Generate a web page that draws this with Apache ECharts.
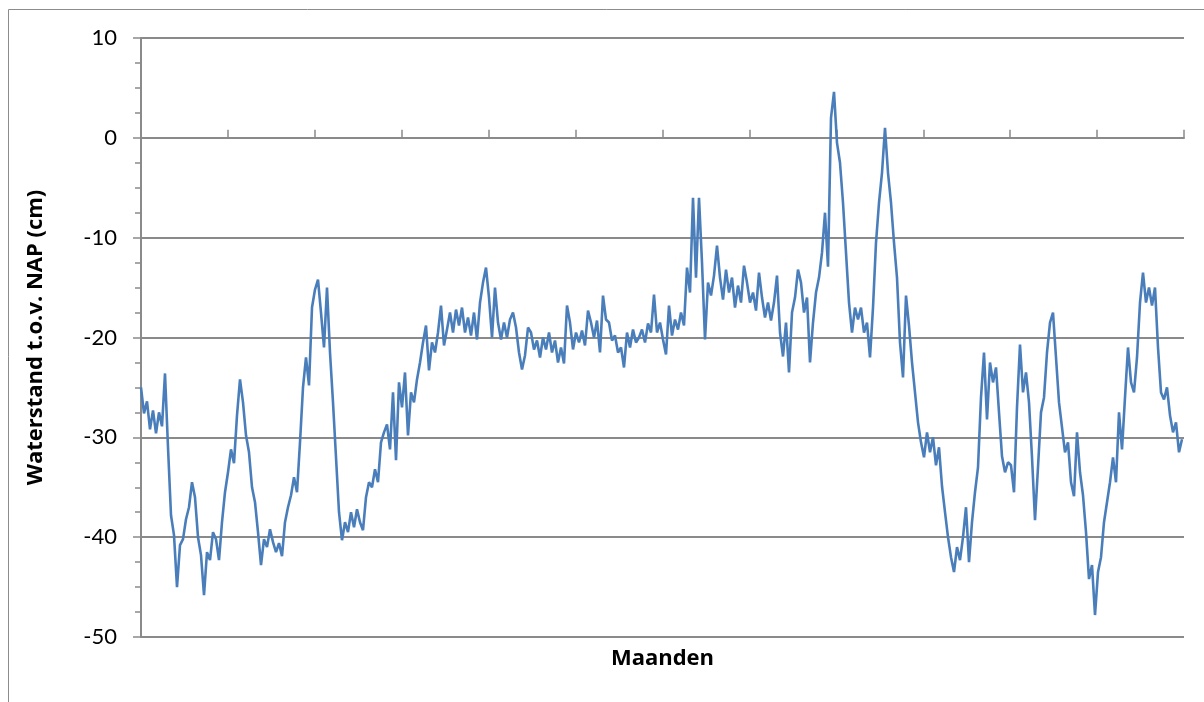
<!DOCTYPE html>
<html>
<head>
<meta charset="utf-8">
<script src="https://cdn.jsdelivr.net/npm/echarts@6/dist/echarts.min.js"></script>
<style>
html,body{margin:0;padding:0;background:#fff;}
#chart{width:1204px;height:702px;}
</style>
</head>
<body>
<div id="chart"></div>
<script>
// Water level (cm relative to NAP), sampled at a regular interval over 12 months
const waterLevel = [
  -25.0, -27.6, -26.4, -29.2, -27.3, -29.6, -27.5, -28.9, -23.6, -31.0,
  -37.8, -39.8, -45.0, -40.8, -40.2, -38.2, -37.0, -34.5, -36.0, -40.0,
  -41.8, -45.8, -41.5, -42.3, -39.5, -40.2, -42.3, -38.5, -35.5, -33.5,
  -31.2, -32.6, -27.8, -24.2, -26.5, -29.8, -31.5, -35.0, -36.5, -39.5,
  -42.8, -40.2, -41.0, -39.2, -40.5, -41.5, -40.6, -41.9, -38.5, -37.0,
  -35.8, -34.0, -35.5, -30.5, -25.0, -22.0, -24.8, -17.0, -15.2, -14.2,
  -17.5, -21.0, -15.0, -21.5, -26.5, -32.0, -37.5, -40.3, -38.5, -39.5,
  -37.5, -39.0, -37.2, -38.5, -39.3, -36.0, -34.5, -35.0, -33.2, -34.5,
  -30.5, -29.5, -28.7, -31.2, -25.5, -32.3, -24.5, -27.0, -23.5, -29.8,
  -25.5, -26.5, -24.2, -22.5, -20.5, -18.8, -23.3, -20.5, -21.5, -19.5,
  -16.8, -20.8, -19.2, -17.5, -19.5, -17.2, -18.8, -17.0, -19.5, -18.0,
  -19.8, -17.5, -20.2, -16.5, -14.5, -13.0, -16.0, -20.0, -15.0, -18.5,
  -20.2, -18.5, -20.0, -18.2, -17.5, -19.0, -21.5, -23.2, -21.8, -19.0,
  -19.5, -21.2, -20.3, -22.0, -20.0, -21.2, -19.5, -21.5, -20.3, -22.5,
  -21.0, -22.6, -16.8, -18.5, -21.2, -19.5, -20.5, -19.3, -20.8, -17.3,
  -18.5, -20.0, -18.3, -21.5, -15.8, -18.2, -18.5, -20.3, -19.8, -21.5,
  -21.0, -23.0, -19.5, -21.0, -19.2, -20.5, -20.0, -19.2, -20.5, -18.6,
  -19.5, -15.7, -19.5, -18.5, -20.2, -21.7, -16.8, -19.8, -18.2, -19.2,
  -17.5, -18.8, -13.0, -15.5, -6.0, -14.0, -6.0, -12.5, -20.2, -14.5,
  -15.8, -13.8, -10.8, -14.0, -16.2, -13.2, -15.5, -14.0, -17.0, -14.8,
  -16.5, -12.8, -14.5, -16.5, -15.5, -17.3, -13.5, -16.0, -18.0, -16.5,
  -18.3, -16.5, -13.8, -19.5, -21.9, -18.5, -23.5, -17.5, -16.0, -13.2,
  -14.5, -17.5, -16.0, -22.5, -18.5, -15.5, -14.0, -11.5, -7.5, -12.9,
  2.0, 4.6, -0.5, -2.5, -6.5, -11.5, -16.5, -19.5, -17.0, -18.2,
  -17.0, -19.5, -18.5, -22.0, -17.0, -10.5, -6.5, -3.5, 1.0, -3.5,
  -6.5, -10.5, -14.0, -20.5, -24.0, -15.8, -18.8, -22.5, -25.5, -28.5,
  -30.5, -32.0, -29.5, -31.5, -30.0, -32.8, -31.0, -34.9, -37.5, -40.0,
  -42.0, -43.5, -41.0, -42.3, -40.0, -37.0, -42.5, -38.5, -35.5, -33.0,
  -26.0, -21.5, -28.2, -22.5, -24.5, -23.0, -27.5, -31.9, -33.5, -32.5,
  -32.8, -35.5, -27.0, -20.7, -25.5, -23.5, -26.5, -32.0, -38.3, -33.0,
  -27.5, -26.0, -21.5, -18.5, -17.5, -22.0, -26.5, -29.0, -31.5, -30.5,
  -34.5, -35.9, -29.5, -33.5, -35.8, -39.5, -44.2, -42.8, -47.8, -43.5,
  -42.0, -38.5, -36.5, -34.5, -32.0, -34.5, -27.5, -31.2, -26.0, -21.0,
  -24.5, -25.5, -22.0, -16.5, -13.5, -16.5, -15.0, -16.8, -15.0, -21.0,
  -25.5, -26.2, -25.0, -27.8, -29.5, -28.5, -31.5, -30.2
];
const monthsPerSample = 36 / 1043; // sampling interval expressed in months
const yTicks = { min: -50, max: 10, interval: 10 };
const monthRange = { min: 0, max: 12, interval: 1 };
const yAxisTitle = 'Waterstand t.o.v. NAP (cm)';
const xAxisTitle = 'Maanden';

const seriesData = waterLevel.map((v, i) => [i * monthsPerSample, v]);

const chart = echarts.init(document.getElementById('chart'), null, {renderer: 'canvas'});
const FONT = 'Lato, "Open Sans", sans-serif';
const TITLE_FONT = '"Open Sans", Lato, sans-serif';
const gray = '#8a8a8a';
chart.setOption({
  animation: false,
  backgroundColor: '#ffffff',
  grid: { left: 141, right: 20, top: 38, bottom: 65, containLabel: false },
  graphic: [{
    type: 'rect',
    shape: { x: 8.5, y: 9.5, width: 1200, height: 700 },
    style: { fill: 'none', stroke: '#8c8c8c', lineWidth: 1 },
    silent: true, z: -10
  }],
  xAxis: {
    type: 'value',
    min: monthRange.min, max: monthRange.max, interval: monthRange.interval,
    axisLine: { show: true, lineStyle: { color: gray, width: 2 } },
    axisTick: { show: true, inside: true, length: 8, lineStyle: { color: gray, width: 1.5 } },
    axisLabel: { show: false },
    splitLine: { show: false },
    name: xAxisTitle,
    nameLocation: 'middle',
    nameGap: 11,
    nameTextStyle: { fontFamily: TITLE_FONT, fontSize: 22, fontWeight: 'bold', color: '#000', verticalAlign: 'top' }
  },
  yAxis: {
    type: 'value',
    min: yTicks.min, max: yTicks.max, interval: yTicks.interval,
    axisLine: { show: true, lineStyle: { color: gray, width: 2 } },
    axisTick: { show: true, inside: false, length: 8, lineStyle: { color: gray, width: 1.5 } },
    minorTick: { show: true, splitNumber: 4, length: 6, lineStyle: { color: gray, width: 1.5 } },
    axisLabel: { fontFamily: FONT, fontSize: 22, color: '#000', margin: 24 },
    splitLine: { show: true, lineStyle: { color: gray, width: 2 } },
    name: yAxisTitle,
    nameLocation: 'middle',
    nameGap: 94,
    nameTextStyle: { fontFamily: TITLE_FONT, fontSize: 22, fontWeight: 'bold', color: '#000' }
  },
  series: [{
    type: 'line',
    data: seriesData,
    showSymbol: false,
    symbol: 'none',
    lineStyle: { color: '#4a7ebb', width: 2.6 },
    z: 3
  }]
});
</script>
</body>
</html>
